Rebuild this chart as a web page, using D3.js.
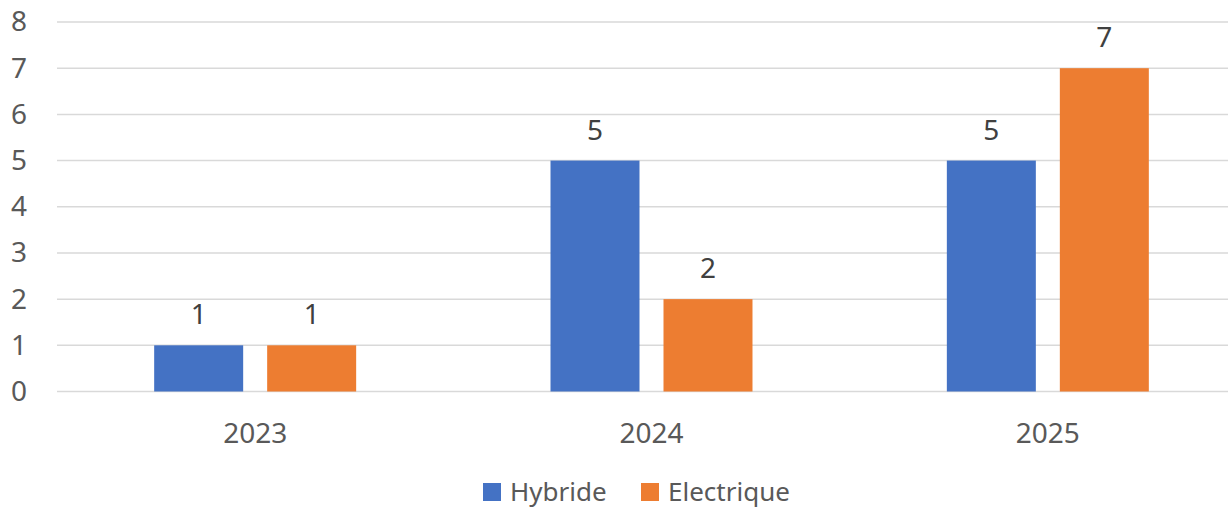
<!DOCTYPE html>
<html>
<head>
<meta charset="utf-8">
<script src="https://cdn.jsdelivr.net/npm/d3@7"></script>
<style>
  body { margin: 0; background: #fff; }
  svg { display: block; font-family: "Noto Sans", "Open Sans", sans-serif; }
</style>
</head>
<body>
<svg id="chart" width="1228" height="509"></svg>
<script>
// data
var years = ['2023', '2024', '2025'];
var seriesNames = ['Hybride', 'Electrique'];
var hybride = [1, 5, 5];
var electrique = [1, 2, 7];
var yTicks = [0, 1, 2, 3, 4, 5, 6, 7, 8];

var colors = ['#4472C4', '#ED7D31'];
var svg = d3.select('#chart');

// plot area runs a bit past the right edge, as in the original
var x0 = d3.scaleBand().domain(years).range([57, 1246]).padding(0);
var x1 = d3.scaleBand().domain(seriesNames)
    .range([0, x0.bandwidth()])
    .paddingInner(24 / 113)
    .paddingOuter(0.86);
var y = d3.scaleLinear().domain([0, 8]).range([391.5, 22]);

var rows = years.map(function(yr, i) {
    return { year: yr, values: [hybride[i], electrique[i]] };
});

// gridlines
svg.append('g').attr('class', 'grid')
    .selectAll('line')
    .data(yTicks)
    .enter().append('line')
    .attr('x1', 57)
    .attr('x2', 1228)
    .attr('y1', function(d) { return y(d); })
    .attr('y2', function(d) { return y(d); })
    .attr('stroke', '#d9d9d9')
    .attr('stroke-width', 1.5);

// y axis labels
var yAxis = d3.axisLeft(y).tickValues(yTicks).tickSize(0).tickPadding(0);
var yG = svg.append('g').attr('transform', 'translate(27,0)').call(yAxis);
yG.select('.domain').remove();
yG.selectAll('text')
    .attr('fill', '#595959')
    .style('font-size', '28px')
    .style('font-family', '"Noto Sans", "Open Sans", sans-serif');

// x axis labels
var xAxis = d3.axisBottom(x0).tickSize(0).tickPadding(0);
var xG = svg.append('g').attr('transform', 'translate(0,443)').call(xAxis);
xG.select('.domain').remove();
xG.selectAll('text')
    .attr('dy', 0)
    .attr('fill', '#595959')
    .style('font-size', '28px')
    .style('font-family', '"Noto Sans", "Open Sans", sans-serif');

// bars
var groups = svg.selectAll('.group')
    .data(rows)
    .enter().append('g')
    .attr('class', 'group')
    .attr('transform', function(d) { return 'translate(' + x0(d.year) + ',0)'; });

groups.selectAll('rect')
    .data(function(d) {
        return d.values.map(function(v, j) { return { name: seriesNames[j], value: v, idx: j }; });
    })
    .enter().append('rect')
    .attr('x', function(d) { return x1(d.name); })
    .attr('width', x1.bandwidth())
    .attr('y', function(d) { return y(d.value); })
    .attr('height', function(d) { return y(0) - y(d.value); })
    .attr('fill', function(d) { return colors[d.idx]; });

// value labels
groups.selectAll('.val')
    .data(function(d) {
        return d.values.map(function(v, j) { return { name: seriesNames[j], value: v }; });
    })
    .enter().append('text')
    .attr('class', 'val')
    .attr('x', function(d) { return x1(d.name) + x1.bandwidth() / 2; })
    .attr('y', function(d) { return y(d.value) - 21; })
    .attr('text-anchor', 'middle')
    .attr('fill', '#404040')
    .style('font-size', '28px')
    .text(function(d) { return d.value; });

// legend, kept just clear of the bottom edge
var legendX = [483, 641];
var legend = svg.selectAll('.legend')
    .data(seriesNames)
    .enter().append('g')
    .attr('class', 'legend')
    .attr('transform', function(d, i) { return 'translate(' + legendX[i] + ',483)'; });

legend.append('rect')
    .attr('width', 18)
    .attr('height', 18)
    .attr('fill', function(d, i) { return colors[i]; });

legend.append('text')
    .attr('x', 27)
    .attr('y', 18)
    .attr('fill', '#595959')
    .style('font-size', '26px')
    .text(function(d) { return d; });
</script>
</body>
</html>
